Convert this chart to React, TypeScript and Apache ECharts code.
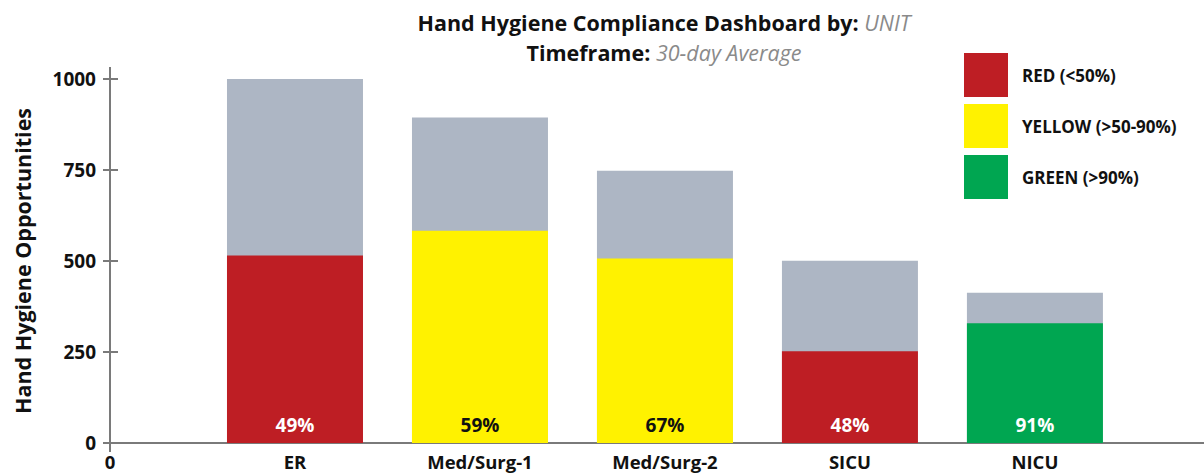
import React, { useEffect, useRef } from "react";
import * as echarts from "echarts";

const units = ["ER", "Med/Surg-1", "Med/Surg-2", "SICU", "NICU"];
const totals = [1000, 894, 748, 501, 413];
const compliant = [515, 583, 507, 252, 329];
const percents = [49, 59, 67, 48, 91];
const bands = ["RED", "YELLOW", "YELLOW", "RED", "GREEN"];
const xLabels = ["0", ...units];
const xPositions = [0, 1, 2, 3, 4, 5];
const xMax = 5.914;
const yMin = 0;
const yMax = 1000;
const yInterval = 250;

const bandDefs = [
  { key: "RED", name: "RED (<50%)", color: "#BE1E24", text: "#ffffff" },
  { key: "YELLOW", name: "YELLOW (>50-90%)", color: "#FFF200", text: "#111111" },
  { key: "GREEN", name: "GREEN (>90%)", color: "#00A651", text: "#ffffff" },
];

const FONT = "'Open Sans', Lato, sans-serif";

export default function App() {
  const ref = useRef<HTMLDivElement>(null);
  useEffect(() => {
    document.body.style.margin = "0";
    const chart = echarts.init(ref.current!, null, { renderer: "svg" });
    const graySeries = {
      name: "Total opportunities",
      type: "bar",
      barWidth: 136,
      barGap: "-100%",
      itemStyle: { color: "#ADB6C4" },
      data: units.map((_, i) => [xPositions[i + 1], totals[i]]),
    };
    const bandSeries = bandDefs.map((b) => ({
      name: b.name,
      type: "bar",
      barWidth: 136,
      barGap: "-100%",
      itemStyle: { color: b.color },
      label: {
        show: true,
        position: "insideBottom",
        distance: 9,
        color: b.text,
        fontSize: 19,
        fontWeight: "bold",
        fontFamily: FONT,
        formatter: (p: any) => `${percents[p.value[0] - 1]}%`,
      },
      data: units
        .map((_, i) => [xPositions[i + 1], compliant[i], bands[i]])
        .filter((d) => d[2] === b.key)
        .map((d) => [d[0], d[1]]),
    }));
    const axisColor = "#7a7a7a";
    chart.setOption({
      animation: false,
      textStyle: { fontFamily: FONT },
      grid: { left: 110, right: 0, top: 79, bottom: 31, containLabel: false },
      graphic: [
        {
          type: "text",
          x: 664,
          y: 7,
          style: {
            text: "{b|Hand Hygiene Compliance Dashboard by: }{i|UNIT}\n{b|Timeframe: }{i|30-day Average}",
            align: "center",
            verticalAlign: "top",
            rich: {
              b: { fontSize: 21.5, fontWeight: "bold", fill: "#111", lineHeight: 30, fontFamily: FONT },
              i: { fontSize: 21.5, fontStyle: "italic", fill: "#8a8a8a", lineHeight: 30, fontFamily: FONT },
            },
          },
        },
      ],
      legend: {
        data: bandDefs.map((b) => b.name),
        orient: "vertical",
        left: 964,
        top: 53,
        padding: 0,
        icon: "rect",
        itemWidth: 44,
        itemHeight: 44,
        itemGap: 7,
        selectedMode: false,
        textStyle: { fontSize: 17, fontWeight: "bold", color: "#111", fontFamily: FONT, padding: [0, 0, 0, 9] },
      },
      xAxis: {
        type: "value",
        min: 0,
        max: xMax,
        splitLine: { show: false },
        axisLine: { show: true, onZero: false, lineStyle: { color: axisColor, width: 2 } },
        axisTick: { show: true, customValues: [0], length: 9, lineStyle: { color: axisColor, width: 2 } },
        axisLabel: {
          customValues: xPositions,
          margin: 9,
          fontSize: 18.5,
          fontWeight: "bold",
          color: "#111",
          fontFamily: FONT,
          formatter: (v: number) => xLabels[Math.round(v)] ?? "",
        },
      },
      yAxis: [
        {
          type: "value",
          min: yMin,
          max: yMax,
          interval: yInterval,
          position: "left",
          name: "Hand Hygiene Opportunities",
          nameLocation: "middle",
          nameGap: 77,
          nameTextStyle: { fontSize: 21.5, fontWeight: "bold", color: "#111", fontFamily: FONT },
          axisLine: {
            show: true,
            onZero: false,
            lineStyle: { color: axisColor, width: 2 },
            symbol: ["none", "rect"],
            symbolSize: [2, 24],
          },
          axisTick: { show: true, length: 7, lineStyle: { color: axisColor, width: 2 } },
          axisLabel: {
            margin: 14,
            fontSize: 19,
            fontWeight: "bold",
            color: "#111",
            fontFamily: FONT,
            formatter: (v: number) => String(v),
          },
          splitLine: { show: false },
        },
        {
          type: "value",
          min: yMin,
          max: yMax,
          interval: yInterval,
          position: "left",
          axisLine: { show: false, onZero: false },
          axisTick: { show: true, inside: true, length: 8, lineStyle: { color: axisColor, width: 2 } },
          axisLabel: { show: false },
          splitLine: { show: false },
        },
      ],
      series: [graySeries, ...bandSeries],
    });
    return () => chart.dispose();
  }, []);
  return <div ref={ref} style={{ width: 1204, height: 474 }} />;
}
